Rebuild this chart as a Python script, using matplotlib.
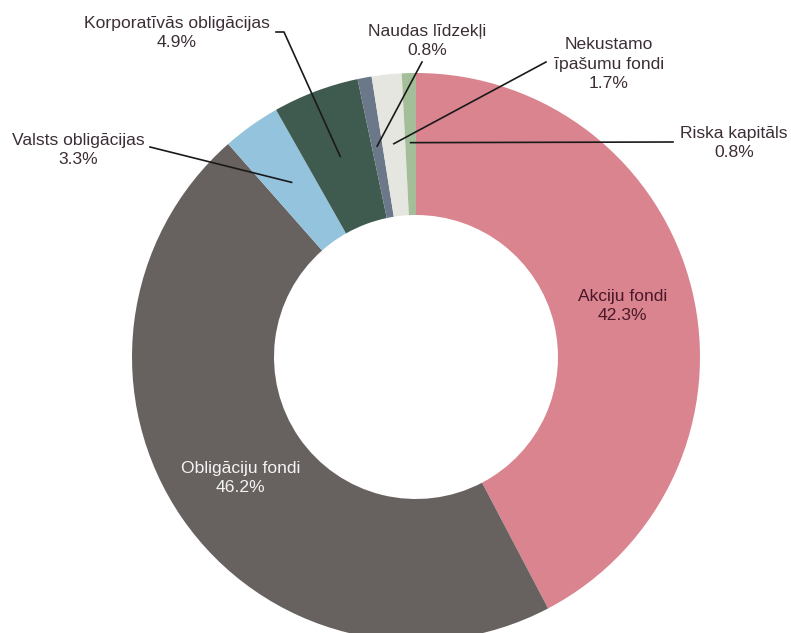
import numpy as np
import matplotlib.pyplot as plt

labels = ["Akciju fondi", "Obligāciju fondi", "Valsts obligācijas", "Korporatīvās obligācijas",
          "Naudas līdzekļi", "Nekustamo\nīpašumu fondi", "Riska kapitāls"]
shares = [42.3, 46.2, 3.3, 4.9, 0.8, 1.7, 0.8]
colors = ["#d9848e", "#67625f", "#93c3dd", "#3f5a4f", "#6a7889", "#e6e6e1", "#a5be9a"]

plt.rcParams['font.family'] = ['Liberation Sans', 'DejaVu Sans']

fig = plt.figure(figsize=(7.91, 6.33), dpi=100)
ax = fig.add_axes([0, 0, 1, 1])

# ring centre and outer radius in picture pixels
cx, cy, R = 416, 357, 284
def px(x, y):
    return (x - cx) / R, (cy - y) / R

wedges, _ = ax.pie(shares, colors=colors, startangle=90, counterclock=False,
                   radius=1, wedgeprops=dict(width=0.5, linewidth=0))
ax.set_xlim(px(0, 0)[0], px(791, 0)[0])
ax.set_ylim(px(0, 633)[1], px(0, 0)[1])
ax.set_aspect('auto')
ax.axis('off')

def mid_point(w, r):
    a = np.deg2rad((w.theta1 + w.theta2) / 2)
    return r * np.cos(a), r * np.sin(a)

fs = 12.6
ls = 1.35

# labels inside the ring
inner_colors = {0: "#4a1828", 1: "#f4f4f4"}
for i, c in inner_colors.items():
    x, y = mid_point(wedges[i], 0.75)
    ax.text(x, y, f"{labels[i]}\n{shares[i]}%", ha='center', va='center',
            fontsize=fs, color=c, linespacing=ls)

# labels outside with leader lines: text centre, line points (pixels)
outside = {
    2: ((78, 150), [(150, 147)]),
    3: ((177, 33), [(276, 32), (284, 32)]),
    4: ((427, 41), [(422, 62)]),
    5: ((609, 64), [(546, 62)]),
    6: ((734, 143), [(673, 142)]),
}
for i, (tpos, pts) in outside.items():
    tx, ty = px(*tpos)
    ax.text(tx, ty, f"{labels[i]}\n{shares[i]}%", ha='center', va='center',
            fontsize=fs, color="#3c2e36", linespacing=ls)
    line = [px(*p) for p in pts] + [mid_point(wedges[i], 0.755)]
    ax.plot([p[0] for p in line], [p[1] for p in line], color="#1a1a1a", lw=1.2)

fig.savefig("out.png", dpi=100)
